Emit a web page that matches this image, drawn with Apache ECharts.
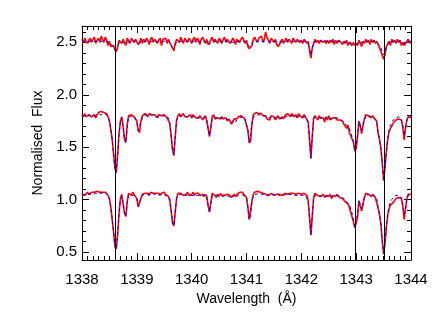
<!DOCTYPE html>
<html>
<head>
<meta charset="utf-8">
<script src="https://cdn.jsdelivr.net/npm/echarts@6/dist/echarts.min.js"></script>
<style>
  html, body { margin: 0; padding: 0; background: #fff; }
  #chart { width: 436px; height: 312px; }
</style>
</head>
<body>
<div id="chart"></div>
<script>
// wavelength sampling of the spectra (Angstrom)
const waveStart = 1338.0;
const waveStep = 0.025;

// vertical marker lines
const markerWaves = [1338.61, 1342.99, 1343.51];

// top spectrum (offset 2.5): observed and model
const topObs = [
  2.53,2.50,2.54,2.51,2.49,2.52,2.54,2.50,2.53,2.55,2.49,2.52,2.54,2.50,2.56,2.53,2.50,2.55,2.52,2.47,
  2.51,2.46,2.46,2.47,2.43,2.41,2.45,2.52,2.51,2.49,2.53,2.50,2.47,2.54,2.53,2.49,2.54,2.52,2.50,2.53,
  2.53,2.48,2.50,2.54,2.49,2.53,2.50,2.54,2.52,2.48,2.53,2.55,2.50,2.53,2.54,2.49,2.52,2.54,2.47,2.53,
  2.52,2.54,2.49,2.53,2.54,2.47,2.46,2.42,2.49,2.53,2.53,2.50,2.55,2.52,2.49,2.54,2.53,2.50,2.54,2.52,
  2.49,2.53,2.55,2.50,2.54,2.52,2.48,2.53,2.55,2.52,2.49,2.53,2.48,2.50,2.51,2.55,2.50,2.53,2.54,2.49,
  2.54,2.52,2.49,2.53,2.55,2.50,2.53,2.53,2.49,2.51,2.54,2.52,2.48,2.53,2.52,2.50,2.53,2.55,2.52,2.49,
  2.52,2.46,2.44,2.45,2.47,2.53,2.55,2.52,2.50,2.54,2.53,2.56,2.50,2.53,2.60,2.54,2.52,2.49,2.54,2.52,
  2.50,2.53,2.48,2.46,2.48,2.51,2.53,2.49,2.52,2.54,2.50,2.53,2.52,2.49,2.54,2.52,2.50,2.53,2.54,2.50,
  2.52,2.49,2.53,2.52,2.49,2.51,2.42,2.35,2.45,2.49,2.53,2.50,2.52,2.49,2.52,2.53,2.50,2.52,2.49,2.52,
  2.49,2.52,2.50,2.53,2.48,2.52,2.49,2.52,2.53,2.50,2.48,2.51,2.49,2.52,2.47,2.50,2.50,2.47,2.50,2.47,
  2.49,2.47,2.52,2.49,2.46,2.51,2.49,2.53,2.50,2.52,2.48,2.53,2.50,2.52,2.49,2.51,2.48,2.45,2.45,2.38,
  2.34,2.38,2.46,2.46,2.51,2.47,2.53,2.50,2.52,2.49,2.53,2.50,2.52,2.47,2.50,2.47,2.47,2.51,2.53,2.50,
  2.49
];
const topModel = [
  2.51,2.51,2.51,2.51,2.51,2.51,2.51,2.51,2.51,2.51,2.51,2.51,2.51,2.51,2.51,2.51,2.51,2.51,2.51,2.50,
  2.50,2.49,2.47,2.45,2.43,2.43,2.46,2.49,2.50,2.51,2.50,2.49,2.48,2.50,2.51,2.51,2.51,2.51,2.51,2.51,
  2.50,2.49,2.49,2.50,2.51,2.51,2.51,2.51,2.51,2.51,2.51,2.51,2.51,2.51,2.51,2.51,2.51,2.51,2.51,2.51,
  2.51,2.51,2.51,2.51,2.50,2.48,2.45,2.44,2.48,2.50,2.51,2.51,2.51,2.51,2.51,2.51,2.51,2.51,2.51,2.51,
  2.51,2.51,2.51,2.51,2.51,2.51,2.51,2.51,2.51,2.51,2.51,2.50,2.49,2.48,2.50,2.51,2.51,2.51,2.51,2.51,
  2.51,2.51,2.51,2.51,2.51,2.51,2.51,2.50,2.50,2.50,2.50,2.50,2.50,2.50,2.51,2.51,2.51,2.51,2.51,2.51,
  2.50,2.48,2.46,2.46,2.49,2.51,2.51,2.51,2.51,2.51,2.51,2.51,2.51,2.51,2.51,2.51,2.51,2.51,2.51,2.51,
  2.51,2.51,2.51,2.51,2.50,2.50,2.50,2.51,2.51,2.51,2.51,2.51,2.51,2.51,2.51,2.51,2.51,2.51,2.51,2.51,
  2.51,2.51,2.51,2.51,2.50,2.49,2.44,2.38,2.44,2.50,2.51,2.51,2.51,2.51,2.51,2.51,2.51,2.51,2.51,2.51,
  2.51,2.51,2.51,2.51,2.51,2.51,2.51,2.51,2.51,2.51,2.50,2.50,2.50,2.50,2.50,2.50,2.49,2.49,2.49,2.48,
  2.48,2.49,2.50,2.50,2.49,2.50,2.51,2.51,2.51,2.51,2.51,2.51,2.51,2.51,2.51,2.50,2.49,2.47,2.45,2.41,
  2.38,2.40,2.45,2.48,2.50,2.50,2.51,2.51,2.51,2.51,2.51,2.51,2.51,2.50,2.49,2.48,2.49,2.50,2.51,2.51,
  2.51
];

// middle spectrum (offset 1.8)
const midObs = [
  1.81,1.79,1.82,1.79,1.79,1.81,1.82,1.79,1.79,1.81,1.78,1.81,1.83,1.82,1.84,1.83,1.83,1.84,1.82,1.79,
  1.75,1.67,1.58,1.44,1.30,1.26,1.43,1.63,1.74,1.79,1.70,1.57,1.55,1.72,1.80,1.79,1.81,1.81,1.79,1.79,
  1.75,1.66,1.64,1.75,1.80,1.81,1.82,1.82,1.79,1.82,1.81,1.81,1.82,1.81,1.81,1.78,1.81,1.82,1.80,1.81,
  1.81,1.81,1.78,1.79,1.73,1.61,1.48,1.42,1.60,1.76,1.80,1.82,1.79,1.80,1.82,1.79,1.80,1.79,1.80,1.81,
  1.78,1.81,1.81,1.78,1.79,1.78,1.80,1.78,1.76,1.78,1.80,1.75,1.68,1.60,1.69,1.79,1.81,1.77,1.78,1.78,
  1.79,1.77,1.79,1.77,1.76,1.78,1.75,1.77,1.75,1.72,1.74,1.77,1.77,1.77,1.79,1.79,1.80,1.80,1.78,1.76,
  1.77,1.66,1.54,1.56,1.73,1.81,1.81,1.83,1.82,1.82,1.83,1.82,1.80,1.80,1.80,1.77,1.77,1.76,1.80,1.81,
  1.79,1.76,1.77,1.80,1.77,1.77,1.79,1.77,1.80,1.79,1.82,1.81,1.79,1.82,1.81,1.79,1.81,1.78,1.82,1.80,
  1.80,1.78,1.81,1.79,1.79,1.74,1.57,1.39,1.61,1.78,1.80,1.78,1.76,1.80,1.78,1.77,1.78,1.74,1.79,1.76,
  1.80,1.76,1.76,1.78,1.79,1.78,1.76,1.77,1.76,1.77,1.75,1.72,1.71,1.68,1.71,1.64,1.63,1.58,1.55,1.46,
  1.49,1.60,1.75,1.70,1.63,1.71,1.77,1.81,1.80,1.80,1.80,1.78,1.80,1.78,1.78,1.75,1.63,1.58,1.49,1.35,
  1.18,1.31,1.45,1.57,1.65,1.68,1.70,1.73,1.73,1.76,1.76,1.77,1.77,1.76,1.69,1.57,1.68,1.76,1.79,1.79,
  1.78
];
const midModel = [
  1.80,1.80,1.80,1.79,1.80,1.80,1.80,1.80,1.79,1.80,1.80,1.80,1.81,1.81,1.81,1.81,1.82,1.82,1.81,1.79,
  1.75,1.68,1.57,1.44,1.31,1.26,1.42,1.62,1.75,1.78,1.70,1.58,1.54,1.70,1.79,1.80,1.79,1.80,1.79,1.77,
  1.74,1.66,1.65,1.74,1.78,1.80,1.80,1.81,1.80,1.80,1.80,1.81,1.80,1.80,1.80,1.79,1.80,1.80,1.80,1.80,
  1.80,1.79,1.79,1.78,1.73,1.62,1.48,1.43,1.60,1.75,1.79,1.80,1.80,1.79,1.80,1.79,1.79,1.80,1.79,1.79,
  1.79,1.80,1.79,1.78,1.78,1.79,1.78,1.77,1.78,1.78,1.79,1.76,1.68,1.61,1.70,1.78,1.79,1.78,1.77,1.78,
  1.78,1.78,1.77,1.77,1.78,1.77,1.76,1.76,1.75,1.74,1.75,1.76,1.74,1.76,1.77,1.78,1.78,1.79,1.78,1.77,
  1.76,1.66,1.55,1.56,1.72,1.79,1.80,1.80,1.80,1.81,1.80,1.80,1.79,1.80,1.79,1.78,1.77,1.78,1.79,1.79,
  1.79,1.78,1.78,1.79,1.78,1.77,1.77,1.78,1.79,1.79,1.80,1.80,1.80,1.80,1.80,1.79,1.80,1.79,1.80,1.79,
  1.79,1.79,1.80,1.79,1.78,1.74,1.56,1.40,1.60,1.76,1.79,1.79,1.78,1.79,1.78,1.78,1.77,1.76,1.78,1.77,
  1.79,1.78,1.77,1.78,1.78,1.79,1.78,1.77,1.77,1.76,1.75,1.74,1.72,1.71,1.70,1.68,1.64,1.60,1.55,1.47,
  1.49,1.62,1.74,1.71,1.66,1.70,1.76,1.79,1.79,1.80,1.79,1.79,1.79,1.78,1.77,1.74,1.64,1.57,1.49,1.36,
  1.20,1.30,1.45,1.58,1.67,1.71,1.74,1.76,1.77,1.78,1.79,1.79,1.78,1.76,1.71,1.61,1.69,1.76,1.78,1.79,
  1.79
];

// bottom spectrum (offset 1.05)
const lowObs = [
  1.05,1.06,1.04,1.05,1.07,1.05,1.06,1.07,1.06,1.07,1.07,1.08,1.09,1.07,1.08,1.07,1.08,1.07,1.07,1.04,
  1.01,0.93,0.81,0.70,0.55,0.53,0.67,0.86,1.01,1.05,0.96,0.87,0.84,0.98,1.06,1.06,1.04,1.07,1.05,1.04,
  1.01,0.93,0.94,1.01,1.05,1.06,1.06,1.07,1.06,1.04,1.07,1.08,1.06,1.05,1.06,1.06,1.06,1.04,1.06,1.07,
  1.07,1.05,1.06,1.03,1.00,0.90,0.78,0.75,0.88,1.01,1.06,1.06,1.06,1.06,1.04,1.05,1.05,1.07,1.04,1.05,
  1.05,1.07,1.04,1.06,1.05,1.06,1.04,1.05,1.05,1.03,1.05,1.03,0.94,0.88,0.97,1.06,1.06,1.04,1.02,1.05,
  1.03,1.06,1.04,1.04,1.04,1.05,1.05,1.04,1.04,1.02,1.02,1.05,1.03,1.05,1.05,1.07,1.06,1.07,1.05,1.05,
  1.02,0.93,0.81,0.82,0.99,1.05,1.07,1.06,1.08,1.07,1.07,1.06,1.06,1.06,1.05,1.06,1.04,1.04,1.06,1.06,
  1.04,1.05,1.05,1.05,1.05,1.05,1.04,1.04,1.06,1.07,1.05,1.06,1.06,1.07,1.06,1.05,1.05,1.05,1.06,1.06,
  1.05,1.04,1.06,1.06,1.04,0.99,0.83,0.66,0.85,1.02,1.06,1.05,1.04,1.03,1.03,1.04,1.05,1.02,1.04,1.03,
  1.03,1.05,1.01,1.04,1.05,1.03,1.05,1.04,1.02,1.03,1.01,1.02,0.98,0.98,0.96,0.93,0.88,0.87,0.79,0.73,
  0.72,0.83,0.99,0.94,0.89,0.96,1.02,1.06,1.05,1.05,1.05,1.03,1.05,1.04,1.02,1.01,0.92,0.86,0.77,0.61,
  0.48,0.58,0.73,0.85,0.91,0.95,0.96,0.97,0.99,1.01,1.01,1.02,1.02,1.01,0.94,0.81,0.91,1.01,1.05,1.05,
  1.05
];
const lowModel = [
  1.05,1.05,1.05,1.04,1.05,1.05,1.05,1.05,1.05,1.05,1.06,1.06,1.06,1.06,1.06,1.06,1.07,1.07,1.06,1.04,
  1.00,0.93,0.82,0.69,0.56,0.53,0.67,0.87,1.00,1.03,0.97,0.87,0.84,0.97,1.04,1.05,1.04,1.05,1.04,1.03,
  1.01,0.94,0.93,1.01,1.03,1.05,1.05,1.05,1.05,1.05,1.05,1.06,1.05,1.05,1.05,1.04,1.05,1.05,1.05,1.05,
  1.05,1.04,1.04,1.03,0.99,0.90,0.79,0.75,0.89,1.01,1.04,1.05,1.05,1.04,1.05,1.04,1.04,1.05,1.04,1.04,
  1.04,1.05,1.04,1.04,1.04,1.05,1.04,1.03,1.04,1.04,1.05,1.02,0.95,0.88,0.97,1.04,1.05,1.04,1.03,1.04,
  1.04,1.04,1.03,1.03,1.04,1.04,1.03,1.03,1.02,1.02,1.03,1.04,1.02,1.03,1.04,1.05,1.05,1.05,1.04,1.03,
  1.02,0.92,0.81,0.83,0.98,1.04,1.05,1.05,1.05,1.06,1.05,1.05,1.04,1.05,1.04,1.04,1.03,1.04,1.05,1.05,
  1.05,1.04,1.04,1.05,1.04,1.03,1.03,1.04,1.05,1.05,1.05,1.05,1.05,1.05,1.05,1.04,1.05,1.04,1.05,1.04,
  1.04,1.04,1.05,1.04,1.03,0.99,0.82,0.66,0.86,1.01,1.04,1.04,1.03,1.04,1.03,1.03,1.03,1.02,1.03,1.03,
  1.04,1.04,1.03,1.04,1.04,1.04,1.04,1.03,1.03,1.03,1.02,1.01,1.00,0.98,0.97,0.95,0.91,0.87,0.81,0.74,
  0.73,0.86,0.99,0.96,0.91,0.95,1.02,1.04,1.04,1.05,1.04,1.04,1.04,1.04,1.03,1.01,0.93,0.86,0.78,0.62,
  0.49,0.57,0.74,0.86,0.94,0.98,1.00,1.02,1.03,1.04,1.04,1.04,1.04,1.02,0.96,0.86,0.93,1.01,1.04,1.05,
  1.05
];

const xTicks = { min: 1338, max: 1344, interval: 1 };
const yRange = { min: 0.424, max: 2.656 };

const pairs = (flux) => flux.map((f, i) => [waveStart + i * waveStep, f]);

// observed red underneath, thin dashed blue model on top
const obsStyle = { color: '#ff0000', width: 1.6 };
const modelStyle = { color: '#0000ff', width: 1, type: [3, 3] };

const obsSeries = (flux) => ({
  type: 'line', data: pairs(flux), showSymbol: false, symbol: 'none',
  lineStyle: obsStyle, itemStyle: { color: '#ff0000' }, z: 2
});
const modelSeries = (flux) => ({
  type: 'line', data: pairs(flux), showSymbol: false, symbol: 'none',
  lineStyle: modelStyle, itemStyle: { color: '#0000ff' }, z: 3
});

const font = 'Liberation Sans, Arial, sans-serif';
const isHalf = (v) => Math.abs(v * 2 - Math.round(v * 2)) < 1e-6;

const chart = echarts.init(document.getElementById('chart'), null, { renderer: 'canvas' });

let series = [
  obsSeries(topObs), modelSeries(topModel),
  obsSeries(midObs), modelSeries(midModel),
  obsSeries(lowObs), modelSeries(lowModel)
];
series[0].markLine = {
  silent: true, symbol: 'none', animation: false,
  label: { show: false },
  lineStyle: { color: '#000', width: 1, type: 'solid' },
  data: markerWaves.map((w) => ({ xAxis: w }))
};

const option = {
  animation: false,
  backgroundColor: '#fff',
  grid: { left: 82, right: 25, top: 26, bottom: 52 },
  xAxis: [
    {
      type: 'value', position: 'bottom',
      min: xTicks.min, max: xTicks.max, interval: xTicks.interval,
      name: 'Wavelength  (Å)', nameLocation: 'middle', nameGap: 25,
      nameTextStyle: { color: '#000', fontSize: 14, fontFamily: font },
      axisLine: { show: true, lineStyle: { color: '#000', width: 1 } },
      axisTick: { show: true, inside: true, length: 7, lineStyle: { color: '#000' } },
      minorTick: { show: true, splitNumber: 10, length: 4, lineStyle: { color: '#000' } },
      axisLabel: { color: '#000', fontSize: 15, fontFamily: font, margin: 12,
        formatter: (v) => String(v) },
      splitLine: { show: false }
    },
    {
      type: 'value', position: 'top',
      min: xTicks.min, max: xTicks.max, interval: xTicks.interval,
      axisLine: { show: true, lineStyle: { color: '#000', width: 1 } },
      axisTick: { show: true, inside: true, length: 7, lineStyle: { color: '#000' } },
      minorTick: { show: true, splitNumber: 10, length: 4, lineStyle: { color: '#000' } },
      axisLabel: { show: false },
      splitLine: { show: false }
    }
  ],
  yAxis: [
    {
      type: 'value', position: 'left',
      min: yRange.min, max: yRange.max, splitNumber: 5,
      name: 'Normalised  Flux', nameLocation: 'middle', nameGap: 34,
      nameTextStyle: { color: '#000', fontSize: 14, fontFamily: font },
      axisLine: { show: true, lineStyle: { color: '#000', width: 1 } },
      axisTick: { show: true, inside: true, length: 7, lineStyle: { color: '#000' } },
      minorTick: { show: true, splitNumber: 5, length: 4, lineStyle: { color: '#000' } },
      axisLabel: {
        color: '#000', fontSize: 15, fontFamily: font, margin: 5,
        showMinLabel: false, showMaxLabel: false,
        formatter: (v) => (isHalf(v) ? v.toFixed(1) : '')
      },
      splitLine: { show: false }
    },
    {
      type: 'value', position: 'right',
      min: yRange.min, max: yRange.max, splitNumber: 5,
      axisLine: { show: true, lineStyle: { color: '#000', width: 1 } },
      axisTick: { show: true, inside: true, length: 7, lineStyle: { color: '#000' } },
      minorTick: { show: true, splitNumber: 5, length: 4, lineStyle: { color: '#000' } },
      axisLabel: { show: false },
      splitLine: { show: false }
    }
  ],
  series: series
};

chart.setOption(option);
</script>
</body>
</html>
